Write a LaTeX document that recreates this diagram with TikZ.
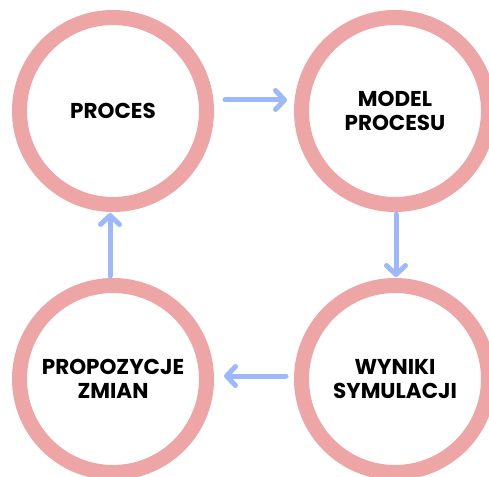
\documentclass[tikz,border=0pt]{standalone}
\usepackage{fontspec}
\setmainfont{Poppins}[BoldFont={* Bold}]
\usetikzlibrary{arrows.meta}
\definecolor{ring}{HTML}{EDA5A5}
\definecolor{arrblue}{HTML}{9DB8FB}
\begin{document}
\begin{tikzpicture}[x=1pt,y=-1pt,
  stage/.style={circle, draw=ring, line width=15pt, minimum size=187pt, inner sep=0pt,
    align=center, font=\bfseries\fontsize{21.5}{24}\selectfont, text=black},
  flow/.style={draw=arrblue, line width=5pt, line cap=round,
    -{Straight Barb[length=9pt,width=19pt,line width=5pt,round]}}]
\useasboundingbox (0,0) rectangle (489,476);
\clip (0,0) rectangle (489,476);
\node[stage] (p) at (113,111) {PROCES};
\node[stage] (m) at (395,111) {MODEL\\PROCESU};
\node[stage] (w) at (395,379) {WYNIKI\\SYMULACJI};
\node[stage] (z) at (113,379) {PROPOZYCJE\\ZMIAN};
\draw[flow, shorten <=11pt, shorten >=7pt] ([yshift=11pt]p.east) -- ([yshift=11pt]m.west);
\draw[flow, shorten <=2pt, shorten >=1pt] ([xshift=1pt]m.south) -- ([xshift=1pt]w.north);
\draw[flow, shorten <=8pt, shorten >=10pt] ([yshift=3pt]w.west) -- ([yshift=3pt]z.east);
\draw[flow, shorten <=2pt, shorten >=1pt] ([xshift=-3pt]z.north) -- ([xshift=-3pt]p.south);
\end{tikzpicture}
\end{document}
